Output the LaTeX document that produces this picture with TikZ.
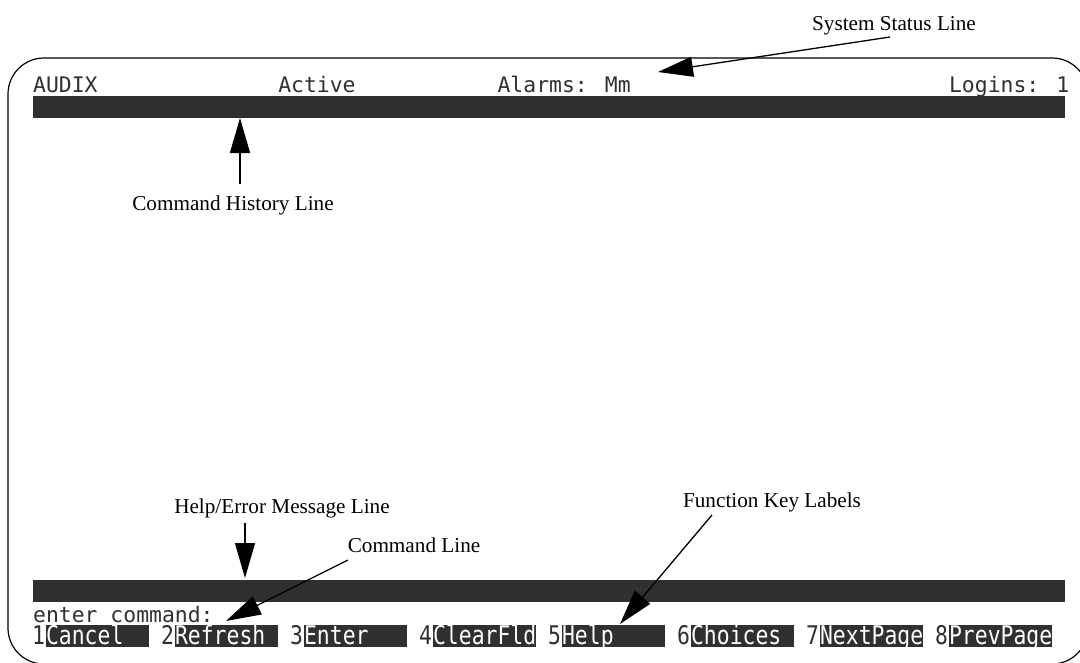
\documentclass[tikz,border=0pt]{standalone}
\usepackage{fontspec}
\usepackage{graphicx}
\setmainfont{Liberation Serif}
\newfontfamily\scrfont{DejaVu Sans Mono}
\usetikzlibrary{arrows.meta,calc}
\definecolor{scr}{HTML}{303030}

\begin{document}
\begin{tikzpicture}[x=1pt,y=-1pt,
  lbl/.style={font=\fontsize{21.2}{24}\selectfont, inner sep=0pt, anchor=base},
  txt/.style={font=\scrfont\fontsize{21.4}{24}\selectfont, text=scr, inner sep=0pt, anchor=base west},
  bar/.style={fill=scr, draw=none, inner sep=0pt, anchor=north west, minimum width=1032pt, minimum height=22pt},
  fkbox/.style={txt, text=white, fill=scr, text width=103.2pt, align=left,
                text height=19pt, text depth=3pt},
  callout/.style={line width=1.3pt, -{Triangle[length=35pt,width=20pt]}},
  frame/.style={line width=1.2pt, rounded corners=36pt}]

\useasboundingbox (0,0) rectangle (1080,662);
\clip (0,0) rectangle (1080,662);

% terminal frame
\draw[frame] (8,58) rectangle (1088,664);

% status line
\node[txt] (audix)  at (33,92) {AUDIX};
\node[txt] (active) at ({33+19*12.9},92) {Active};
\node[txt] (alarms) at ({33+36*12.9},92) {Alarms: Mm};
\node[txt] (logins) at ({33+71*12.9},92) {Logins: 1};

% command history line and help/error message line
\node[bar] (histbar) at (33,96) {};
\node[bar] (helpbar) at (33,580) {};

% command line
\node[txt, text depth=0pt] (cmd) at (33,622) {enter command:};

% function key labels: key number, then the label in reverse video
\foreach \lab [count=\i from 0] in {Cancel,Refresh,Enter,ClearFld,Help,Choices,NextPage,PrevPage}{
  \pgfmathtruncatemacro{\n}{\i+1}
  \node[txt] (fkd\i) at ({32+10*\i*12.9},644) {\scalebox{1}[1.2]{\n}};
  \node[fkbox] (fkt\i) at ({33+(10*\i+1)*12.9},644) {\scalebox{1}[1.2]{\lab}};
}

% callout labels
\node[lbl] (sysL)  at (894,30)  {System Status Line};
\node[lbl] (histL) at (233,210) {Command History Line};
\node[lbl] (helpL) at (282,513) {Help/Error Message Line};
\node[lbl] (cmdL)  at (414,552) {Command Line};
\node[lbl] (fkL)   at (772,507) {Function Key Labels};

% callout ends
\coordinate (sysS)  at (890,37);
\coordinate (sysT)  at (658,72);
\coordinate (histS) at (240,184);
\coordinate (histT) at (240,118);
\coordinate (helpS) at (245,523);
\coordinate (helpT) at (245,578);
\coordinate (cmdS)  at (348,560);
\coordinate (cmdT)  at (226,621);
\coordinate (fkS)   at (712,515);
\coordinate (fkT)   at (620,624);

\draw[callout] (sysS) -- (sysT);
\draw[callout] (histS) -- (histT);
\draw[callout] (helpS) -- (helpT);
\draw[callout] (cmdS) -- (cmdT);
\draw[callout] (fkS) -- (fkT);
\end{tikzpicture}
\end{document}
